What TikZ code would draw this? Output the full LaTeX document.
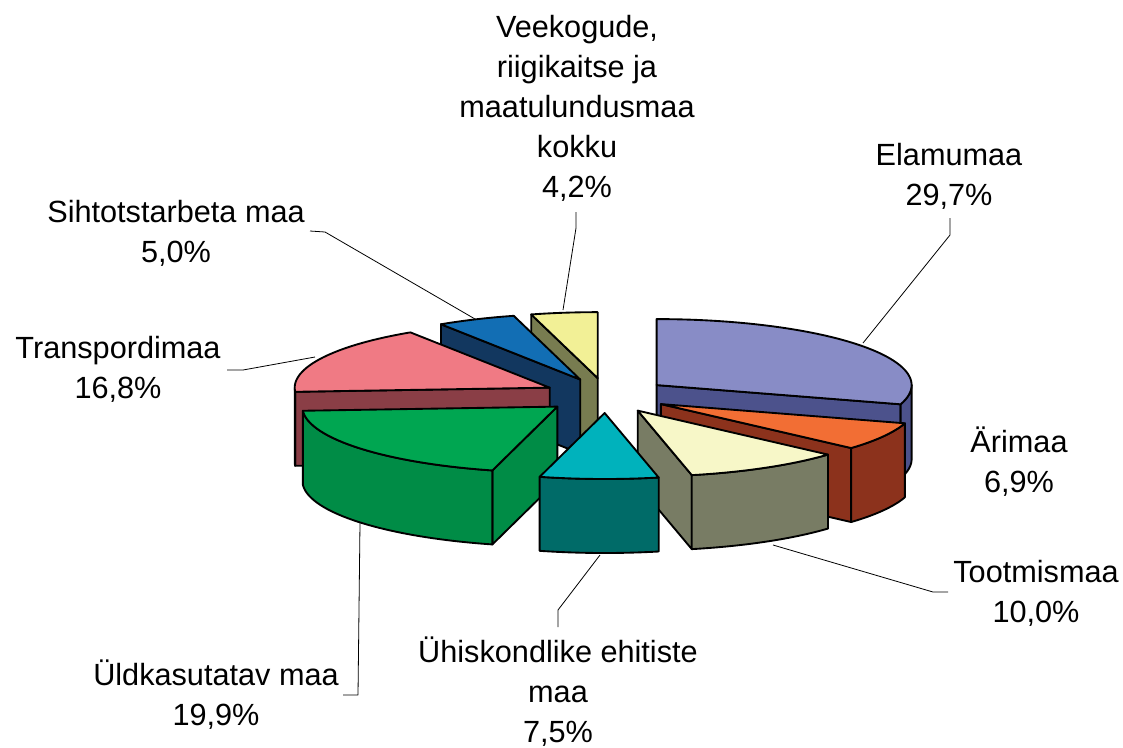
\documentclass[tikz,border=0pt]{standalone}
\usepackage{fontspec}
\setmainfont{Liberation Sans}
\usepackage{tikz}

\definecolor{elamuTop}{RGB}{136,140,198}
\definecolor{elamuSide}{RGB}{76,82,140}
\definecolor{ariTop}{RGB}{242,110,52}
\definecolor{ariSide}{RGB}{140,50,28}
\definecolor{tootTop}{RGB}{247,247,200}
\definecolor{tootSide}{RGB}{120,124,100}
\definecolor{uhisTop}{RGB}{0,178,188}
\definecolor{uhisSide}{RGB}{0,107,104}
\definecolor{uldTop}{RGB}{0,166,81}
\definecolor{uldSide}{RGB}{0,140,70}
\definecolor{transTop}{RGB}{240,122,132}
\definecolor{transSide}{RGB}{138,62,70}
\definecolor{sihtTop}{RGB}{18,110,180}
\definecolor{sihtSide}{RGB}{18,55,95}
\definecolor{veeTop}{RGB}{242,240,150}
\definecolor{veeSide}{RGB}{120,124,80}

\begin{document}
\begin{tikzpicture}[x=0.75pt, y=-0.75pt, line join=round,
  sliceface/.style={draw=black, line width=1.4pt},
  leaderline/.style={draw=black, line width=0.6pt},
  pielabel/.style={font=\fontsize{23}{30}\selectfont, align=center, anchor=base, inner sep=0pt}]
  \fill[white] (0,0) rectangle (1123,747);
  \useasboundingbox (0,0) rectangle (1123,747);
  % Draw the slices, back to front: start angle/end angle/top/side
  \foreach \a/\b/\ct/\cs in {344.88/360/veeTop/veeSide, 326.88/344.88/sihtTop/sihtSide,
      266.4/326.88/transTop/transSide, 0/106.92/elamuTop/elamuSide,
      106.92/131.76/ariTop/ariSide, 194.76/266.4/uldTop/uldSide,
      131.76/167.76/tootTop/tootSide, 167.76/194.76/uhisTop/uhisSide}{
    \pgfmathsetmacro\ax{606+63*sin((\a+\b)/2)}
    \pgfmathsetmacro\ay{395.5-17.5*cos((\a+\b)/2)}
    \pgfmathtruncatemacro\showb{sin(\b)>0.01}
    \pgfmathtruncatemacro\showa{sin(\a)<-0.01}
    \pgfmathsetmacro\sa{max(\a,90)}
    \pgfmathsetmacro\sb{min(\b,270)}
    \pgfmathtruncatemacro\showside{\sb>\sa}
    \ifnum\showb=1
      \filldraw[sliceface, fill=\cs] (\ax,\ay) -- ({\ax+255*sin(\b)},{\ay-66*cos(\b)})
        -- ++(0,74) -- ({\ax},{\ay+74}) -- cycle;
    \fi
    \ifnum\showa=1
      \filldraw[sliceface, fill=\cs] (\ax,\ay) -- ({\ax+255*sin(\a)},{\ay-66*cos(\a)})
        -- ++(0,74) -- ({\ax},{\ay+74}) -- cycle;
    \fi
    \ifnum\showside=1
      \filldraw[sliceface, fill=\cs]
        plot[domain=\sa:\sb, samples=40] ({\ax+255*sin(\x)},{\ay-66*cos(\x)})
        -- plot[domain=\sb:\sa, samples=40] ({\ax+255*sin(\x)},{\ay+74-66*cos(\x)}) -- cycle;
    \fi
    \filldraw[sliceface, fill=\ct] (\ax,\ay)
      -- plot[domain=\a:\b, samples=60] ({\ax+255*sin(\x)},{\ay-66*cos(\x)}) -- cycle;
  }

  % Labels (placed at the baseline of their last line)
  \node[pielabel] (veeLbl) at (577,197) {Veekogude,\\riigikaitse ja\\maatulundusmaa\\kokku\\4,2\%};
  \node[pielabel] (elamuLbl) at (949,205) {Elamumaa\\29,7\%};
  \node[pielabel] (sihtLbl) at (176,262) {Sihtotstarbeta maa\\5,0\%};
  \node[pielabel] (transLbl) at (118,398) {Transpordimaa\\16,8\%};
  \node[pielabel] (ariLbl) at (1019,492) {Ärimaa\\6,9\%};
  \node[pielabel] (tootLbl) at (1036,622) {Tootmismaa\\10,0\%};
  \node[pielabel] (uhisLbl) at (558,742) {Ühiskondlike ehitiste\\maa\\7,5\%};
  \node[pielabel] (uldLbl) at (216,725) {Üldkasutatav maa\\19,9\%};

  % Leader lines
  \coordinate (veeEnd) at (576,212);
  \coordinate (veePt) at (563,310);
  \coordinate (elamuEnd) at (950,218);
  \coordinate (elamuPt) at (863,343);
  \coordinate (sihtEnd) at (310,231);
  \coordinate (sihtPt) at (475,319);
  \coordinate (transEnd) at (227,370);
  \coordinate (transPt) at (315,357);
  \coordinate (tootEnd) at (948,592);
  \coordinate (tootPt) at (773,545);
  \coordinate (uhisEnd) at (558,627);
  \coordinate (uhisPt) at (600,555);
  \coordinate (uldEnd) at (343,695);
  \coordinate (uldPt) at (360,523);
  \draw[leaderline] (veeEnd) -- ++(0,16) -- (veePt);
  \draw[leaderline] (elamuEnd) -- ++(0,17) -- (elamuPt);
  \draw[leaderline] (sihtEnd) -- ++(15,1) -- (sihtPt);
  \draw[leaderline] (transEnd) -- ++(16,0) -- (transPt);
  \draw[leaderline] (tootEnd) -- ++(-15,0) -- (tootPt);
  \draw[leaderline] (uhisEnd) -- ++(0,-17) -- (uhisPt);
  \draw[leaderline] (uldEnd) -- ++(15,0) -- (uldPt);
\end{tikzpicture}
\end{document}
